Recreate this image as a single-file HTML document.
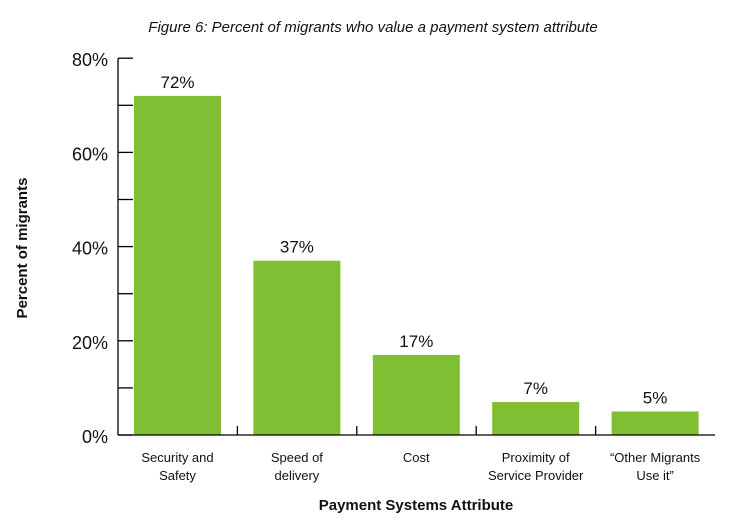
<!DOCTYPE html>
<html><head><meta charset="utf-8"><style>
body{margin:0;background:#fff}
text{font-family:"Liberation Sans","DejaVu Sans",sans-serif;fill:#111}
</style></head><body>
<svg id="c" width="746" height="526" xmlns="http://www.w3.org/2000/svg">
<text x="373" y="32" text-anchor="middle" font-size="15" font-style="italic">Figure 6: Percent of migrants who value a payment system attribute</text>
<text transform="translate(27,248) rotate(-90)" text-anchor="middle" font-size="15" font-weight="bold">Percent of migrants</text>
<text x="416" y="510" text-anchor="middle" font-size="15" font-weight="bold">Payment Systems Attribute</text>
<g id="g"></g>
</svg>
<script>
const categories=[["Security and","Safety"],["Speed of","delivery"],["Cost"],["Proximity of","Service Provider"],["“Other Migrants","Use it”"]];
const values=[72,37,17,7,5];
const yTicks=[0,20,40,60,80];
const yMinor=[10,30,50,70];
const X0=118,Y0=435,PX=4.71,CW=119.4,BW=87;
const y=v=>Y0-v*PX;
const x=i=>X0+i*CW;
const ns="http://www.w3.org/2000/svg",g=document.getElementById('g');
function mk(t,a){const e=document.createElementNS(ns,t);for(const k in a)e.setAttribute(k,a[k]);g.appendChild(e);return e;}
values.forEach((v,i)=>{
 const r=mk('rect',{x:x(i)+16,y:y(v),width:BW,height:Y0-y(v),fill:'#80bf33'});
 
 
 const t=mk('text',{x:x(i)+16+BW/2,y:y(v)-8,'text-anchor':'middle','font-size':'17'});
 t.textContent=v+'%';
 
 
 categories[i].forEach((ln,j)=>{
  const c=mk('text',{x:x(i)+16+BW/2,y:462+j*18,'text-anchor':'middle','font-size':'13'});
  c.textContent=ln;
  
  
 });
 if(i>0){const tk=mk('line',{x1:x(i),x2:x(i),y1:Y0,y2:Y0-9,stroke:'#000','stroke-width':1.3});
 
 }
});
const ax=mk('line',{x1:X0,x2:X0,y1:y(80),y2:Y0,stroke:'#000','stroke-width':1.3});


const bx=mk('line',{x1:X0,x2:x(5),y1:Y0,y2:Y0,stroke:'#000','stroke-width':1.3});


yTicks.concat(yMinor).forEach(v=>{
 const l=mk('line',{x1:X0,x2:X0+15,y1:y(v),y2:y(v),stroke:'#000','stroke-width':1.3});
 
 
});
yTicks.forEach(v=>{
 const t=mk('text',{x:108,y:y(v)+8,'text-anchor':'end','font-size':'18'});
 t.textContent=v+'%';
 
 
});
</script>
</body></html>
